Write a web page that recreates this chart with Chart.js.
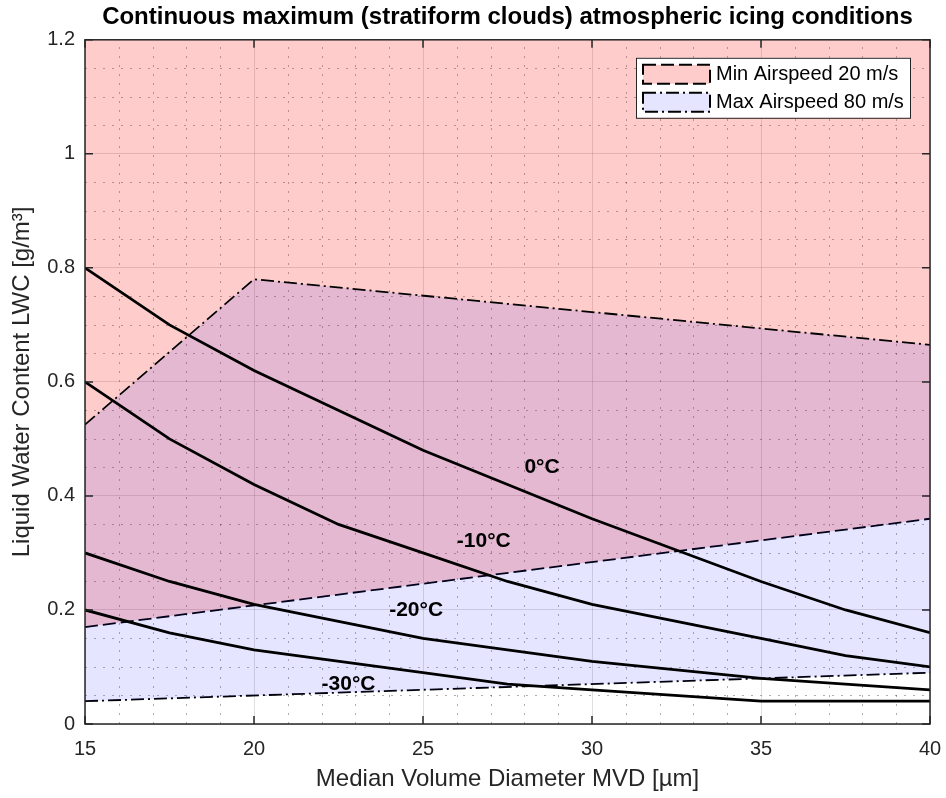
<!DOCTYPE html>
<html>
<head>
<meta charset="utf-8">
<script src="https://cdn.jsdelivr.net/npm/chart.js@4.4.1/dist/chart.umd.min.js"></script>
<style>
  html, body { margin: 0; padding: 0; background: #fff; }
</style>
</head>
<body>
<canvas id="icingChart" width="946" height="798"></canvas>
<script>
const fontFam = '"Liberation Sans", Arial, Helvetica, sans-serif';

// temperature curves, MVD [um] vs LWC [g/m3]
const mvd0 = [15, 17.5, 20, 25, 30, 35, 37.5, 40];
const lwc0 = [0.8, 0.7, 0.62, 0.48, 0.36, 0.25, 0.2, 0.16];
const mvd10 = [15, 17.5, 20, 22.5, 25, 27.5, 30, 35, 37.5, 40];
const lwc10 = [0.6, 0.5, 0.42, 0.35, 0.3, 0.25, 0.21, 0.15, 0.12, 0.1];
const mvd20 = [15, 17.5, 20, 25, 30, 35, 40];
const lwc20 = [0.3, 0.25, 0.21, 0.15, 0.11, 0.08, 0.06];
const mvd30 = [15, 17.5, 20, 25, 27.5, 30, 35, 40];
const lwc30 = [0.2, 0.16, 0.13, 0.09, 0.07, 0.06, 0.04, 0.04];

// airspeed limits
const minAirMvd = [15, 40];
const minAirLwc = [0.17, 0.36];
const maxAirTopMvd = [15, 20, 40];
const maxAirTopLwc = [0.525, 0.78, 0.665];
const maxAirBotMvd = [15, 40];
const maxAirBotLwc = [0.04, 0.09];

// curve labels (anchor in data units)
const tempNames = ['0°C', '-10°C', '-20°C', '-30°C'];
const tempLabelX = [28, 26, 24, 22];
const tempLabelY = [0.45, 0.32, 0.2, 0.07];

const xTicks = [15, 20, 25, 30, 35, 40];
const yTicks = [0, 0.2, 0.4, 0.6, 0.8, 1, 1.2];

const toXY = (xs, ys) => xs.map((x, i) => ({x: x, y: ys[i]}));

function curve(label, xs, ys) {
  return {
    label: label, data: toXY(xs, ys),
    borderColor: '#000', borderWidth: 2.8, pointRadius: 0,
    fill: false, tension: 0, order: 0
  };
}

// dotted minor grid, drawn under the patches
const minorGrid = {
  id: 'minorGrid',
  beforeDatasetsDraw(chart) {
    const {ctx, chartArea: a, scales: {x, y}} = chart;
    ctx.save();
    ctx.strokeStyle = 'rgba(26,26,26,0.35)';
    ctx.lineWidth = 1;
    ctx.setLineDash([2, 7]);
    for (let i = 16; i < 40; i++) {
      if (i % 5 === 0) continue;
      const px = Math.round(x.getPixelForValue(i)) + 0.5;
      ctx.beginPath(); ctx.moveTo(px, a.bottom); ctx.lineTo(px, a.top); ctx.stroke();
    }
    for (let j = 1; j < 24; j++) {
      if (j % 4 === 0) continue;
      const py = Math.round(y.getPixelForValue(j * 0.05)) + 0.5;
      ctx.beginPath(); ctx.moveTo(a.left, py); ctx.lineTo(a.right, py); ctx.stroke();
    }
    ctx.restore();
  }
};

const tempLabels = {
  id: 'tempLabels',
  afterDatasetsDraw(chart) {
    const {ctx, scales: {x, y}} = chart;
    ctx.save();
    ctx.font = 'bold 21px ' + fontFam;
    ctx.fillStyle = '#000';
    ctx.textAlign = 'left';
    ctx.textBaseline = 'middle';
    tempNames.forEach((t, i) => {
      ctx.fillText(t, x.getPixelForValue(tempLabelX[i]), y.getPixelForValue(tempLabelY[i]));
    });
    ctx.restore();
  }
};

// box around the axes with inward ticks
const axesBox = {
  id: 'axesBox',
  afterDatasetsDraw(chart) {
    const {ctx, chartArea: a, scales: {x, y}} = chart;
    ctx.save();
    ctx.strokeStyle = '#262626';
    ctx.lineWidth = 1.5;
    ctx.strokeRect(a.left, a.top, a.right - a.left, a.bottom - a.top);
    ctx.beginPath();
    xTicks.forEach(v => {
      const px = x.getPixelForValue(v);
      ctx.moveTo(px, a.bottom); ctx.lineTo(px, a.bottom - 8);
      ctx.moveTo(px, a.top); ctx.lineTo(px, a.top + 8);
    });
    yTicks.forEach(v => {
      const py = y.getPixelForValue(v);
      ctx.moveTo(a.left, py); ctx.lineTo(a.left + 8, py);
      ctx.moveTo(a.right, py); ctx.lineTo(a.right - 8, py);
    });
    ctx.stroke();
    ctx.restore();
  }
};

const legendBox = {
  id: 'legendBox',
  afterDatasetsDraw(chart) {
    const {ctx, chartArea: a} = chart;
    const items = [chart.data.datasets[0], chart.data.datasets[1]];
    const w = 274, h = 60;
    const x0 = a.right - 20 - w, y0 = a.top + 18;
    ctx.save();
    ctx.fillStyle = '#fff';
    ctx.fillRect(x0, y0, w, h);
    ctx.strokeStyle = '#262626';
    ctx.lineWidth = 1;
    ctx.strokeRect(x0 + 0.5, y0 + 0.5, w, h);
    items.forEach((ds, i) => {
      const sy = y0 + 7 + i * 28;
      ctx.fillStyle = ds.backgroundColor;
      ctx.fillRect(x0 + 7, sy, 67, 19);
      ctx.setLineDash(ds.borderDash);
      ctx.lineWidth = 2;
      ctx.strokeStyle = '#000';
      ctx.strokeRect(x0 + 7, sy, 67, 19);
      ctx.setLineDash([]);
      ctx.fillStyle = '#000';
      ctx.font = '20px ' + fontFam;
      ctx.textBaseline = 'middle';
      ctx.textAlign = 'left';
      ctx.fillText(ds.label, x0 + 80, sy + 10);
    });
    ctx.restore();
  }
};

new Chart(document.getElementById('icingChart'), {
  type: 'line',
  data: {
    datasets: [
      {
        label: 'Min Airspeed 20 m/s', data: toXY(minAirMvd, minAirLwc),
        borderColor: '#000', borderWidth: 1.8, borderDash: [13, 5], pointRadius: 0,
        backgroundColor: 'rgba(255,0,0,0.2)', fill: 'end', order: 3
      },
      {
        label: 'Max Airspeed 80 m/s', data: toXY(maxAirTopMvd, maxAirTopLwc),
        borderColor: '#000', borderWidth: 1.8, borderDash: [13, 4, 2, 4], pointRadius: 0,
        backgroundColor: 'rgba(0,0,255,0.1)', fill: 2, order: 2
      },
      {
        label: 'Max Airspeed 80 m/s (lower)', data: toXY(maxAirBotMvd, maxAirBotLwc),
        borderColor: '#000', borderWidth: 1.8, borderDash: [13, 4, 2, 4], pointRadius: 0,
        fill: false, order: 2
      },
      curve('0°C', mvd0, lwc0),
      curve('-10°C', mvd10, lwc10),
      curve('-20°C', mvd20, lwc20),
      curve('-30°C', mvd30, lwc30)
    ]
  },
  options: {
    responsive: false,
    animation: false,
    layout: {padding: {left: 0, right: 16, top: 0, bottom: 0}},
    plugins: {
      legend: {display: false},
      tooltip: {enabled: false},
      title: {
        display: true, fullSize: false,
        text: 'Continuous maximum (stratiform clouds) atmospheric icing conditions',
        color: '#000', font: {family: fontFam, size: 24, weight: 'bold'},
        padding: {top: 3, bottom: 8}
      }
    },
    scales: {
      x: {
        type: 'linear', min: 15, max: 40,
        ticks: {stepSize: 5, color: '#262626', font: {family: fontFam, size: 20}, padding: 13, maxRotation: 0},
        grid: {color: 'rgba(38,38,38,0.15)', drawTicks: false},
        border: {display: false},
        title: {display: true, text: 'Median Volume Diameter MVD [µm]', color: '#262626',
                font: {family: fontFam, size: 24}, padding: {top: 0, bottom: 4}},
        afterFit: s => { s.height = 74; s.paddingLeft = 0; s.paddingRight = 0; }
      },
      y: {
        type: 'linear', min: 0, max: 1.2,
        ticks: {stepSize: 0.2, color: '#262626', font: {family: fontFam, size: 20}, padding: 10,
                callback: v => String(+v.toFixed(2))},
        grid: {color: 'rgba(38,38,38,0.15)', drawTicks: false},
        border: {display: false},
        title: {display: true, text: 'Liquid Water Content LWC [g/m³]', color: '#262626',
                font: {family: fontFam, size: 24}, padding: {top: 8, bottom: 0}},
        afterFit: s => { s.width = 85; s.paddingTop = 0; s.paddingBottom = 0; }
      }
    }
  },
  plugins: [minorGrid, tempLabels, axesBox, legendBox]
});
</script>
</body>
</html>
